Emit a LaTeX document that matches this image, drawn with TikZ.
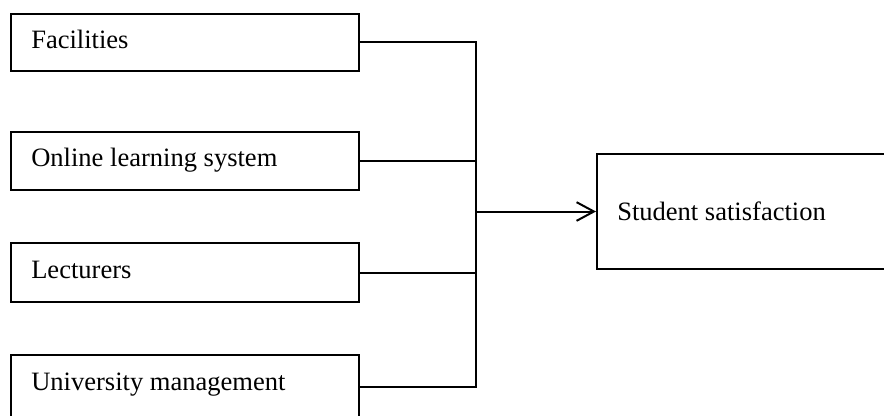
\documentclass[tikz,border=0pt]{standalone}
\usepackage{fontspec}
\setmainfont{Liberation Serif}
\usetikzlibrary{arrows.meta}
\begin{document}
\begin{tikzpicture}[x=0.75pt,y=-0.75pt,
  box/.style={draw=black,line width=1.5pt,fill=white,rectangle,inner sep=0pt,anchor=north west},
  lbl/.style={anchor=base west,inner sep=0pt,font=\fontsize{19.9pt}{22pt}\selectfont},
  conn/.style={draw=black,line width=1.5pt}]
\useasboundingbox (0,0) rectangle (884,415);
\clip (0,0) rectangle (884,415);
\fill[white] (0,0) rectangle (884,415);
\node[box,minimum width=348*0.75pt,minimum height=57*0.75pt] (fac) at (10,12.5) {};
\node[box,minimum width=348*0.75pt,minimum height=58*0.75pt] (onl) at (10,131) {};
\node[box,minimum width=348*0.75pt,minimum height=59*0.75pt] (lec) at (10,242) {};
\node[box,minimum width=348*0.75pt,minimum height=64*0.75pt] (uni) at (10,353.5) {};
\node[box,minimum width=300*0.75pt,minimum height=115*0.75pt] (stu) at (596,153) {};
\node[lbl] (tfac) at (31,48.5) {Facilities};
\node[lbl] (tonl) at (31,166) {Online learning system};
\node[lbl] (tlec) at (31,278.5) {Lecturers};
\node[lbl] (tuni) at (31,390) {University management};
\node[lbl] (tstu) at (617,220) {Student satisfaction};
\coordinate (jx) at (476,0);
\draw[conn] (fac.east) -- (fac.east -| jx) -- (uni.east -| jx) -- (uni.east);
\draw[conn] (onl.east) -- (onl.east -| jx);
\draw[conn] (lec.east) -- (lec.east -| jx);
\draw[conn,-{Straight Barb[length=13pt,width=14pt]}] (stu.west -| jx) -- (stu.west);
\end{tikzpicture}
\end{document}
